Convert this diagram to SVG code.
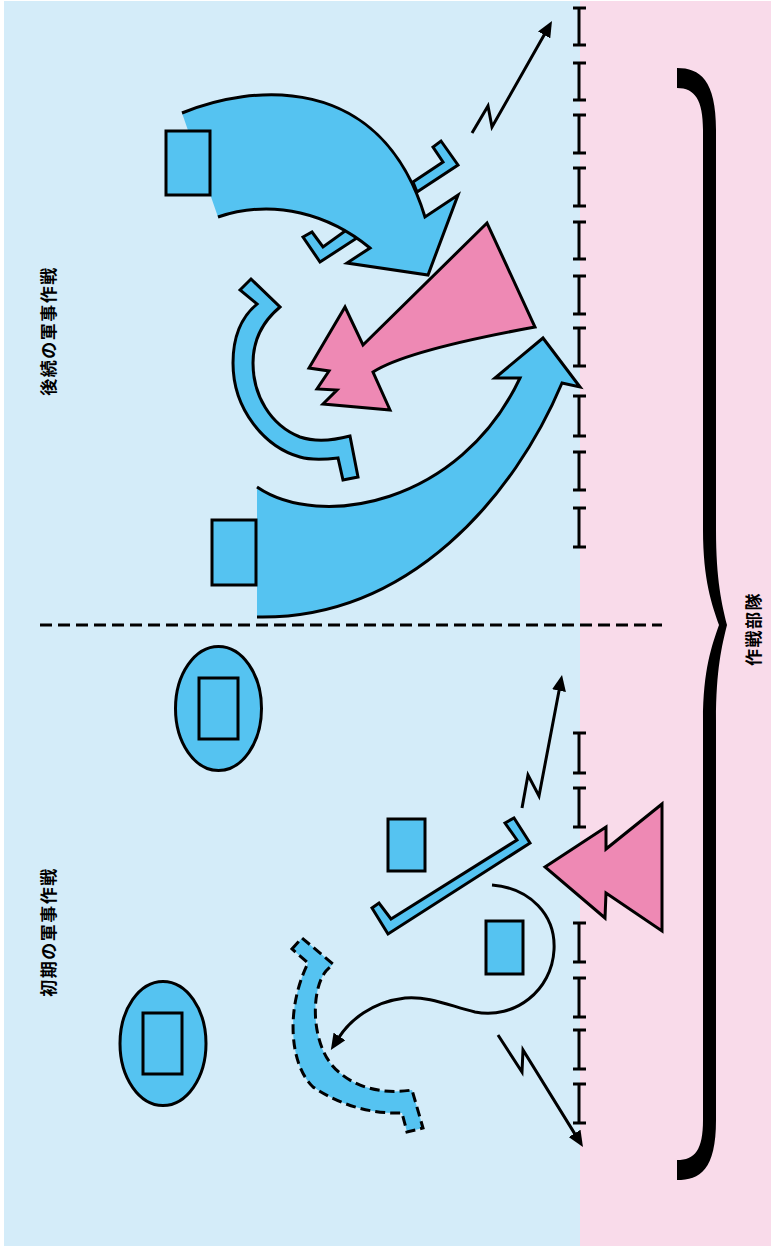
<svg xmlns="http://www.w3.org/2000/svg" width="771" height="1247" viewBox="0 0 771 1247">
<style>
.ln{fill:none;stroke:#000;stroke-width:3;stroke-linejoin:miter;stroke-miterlimit:10}
.bl{fill:#55c3f1;stroke:#000;stroke-width:3;stroke-linejoin:miter;stroke-miterlimit:10}
.blf{fill:#55c3f1;stroke:none}
.pk{fill:#ee89b4;stroke:#000;stroke-width:3;stroke-linejoin:miter;stroke-miterlimit:10}
.tk{fill:none;stroke:#000;stroke-width:3}
.lbl{font-family:"Noto Sans CJK JP","Noto Sans CJK SC",sans-serif;font-weight:bold;font-size:17px;fill:#000;letter-spacing:1.5px}
.arr{fill:none;stroke:#000;stroke-width:3;marker-end:url(#ah)}
</style>
<defs>
<marker id="ah" viewBox="0 0 16 14" markerWidth="16" markerHeight="14" markerUnits="userSpaceOnUse" refX="2" refY="7" orient="auto">
<path d="M0,0 L16,7 L0,14 z" fill="#000"/>
</marker>
</defs>
<g id="background">
<rect x="0" y="0" width="771" height="1247" fill="#ffffff"/>
<rect x="4" y="1" width="576" height="1245" fill="#d4ecf9"/>
<rect x="580" y="1" width="191" height="1245" fill="#f9dbea"/>
</g>
<g id="frontline">
<path class="tk" d="M573,8H586M579,8V45M573,45H586 M573,63H586M579,63V100M573,100H586 M573,115H586M579,115V153M573,153H586 M573,168H586M579,168V206M573,206H586 M573,222H586M579,222V259M573,259H586 M573,276H586M579,276V314M573,314H586 M573,328H586M579,328V366M573,366H586 M573,396H586M579,396V436M573,436H586 M573,452H586M579,452V490M573,490H586 M573,508H586M579,508V547M573,547H586"/>
<path class="tk" d="M573,733H586M579,733V773M573,773H586 M573,788H586M579,788V827M573,827H586 M573,923H586M579,923V962M573,962H586 M573,978H586M579,978V1017M573,1017H586 M573,1030H586M579,1030V1069M573,1069H586 M573,1084H586M579,1084V1123M573,1123H586"/>
</g>
<g id="divider">
<path d="M40,625H662" fill="none" stroke="#000" stroke-width="3" stroke-dasharray="12 6"/>
</g>
<g id="brace">
<path d="M677,68 C700,68 716,80 716,130 L716,530 C716,580 722,605 727,625 C722,645 716,670 716,720 L716,1120 C716,1170 700,1180 677,1180 L677,1160 C695,1160 703,1150 703,1120 L703,720 C703,670 712,645 719,625 C712,605 703,580 703,530 L703,130 C703,100 695,88 677,88 Z" fill="#000"/>
</g>
<g id="labels">
<text class="lbl" transform="translate(47,331) rotate(-90)" text-anchor="middle" dominant-baseline="central">後続の軍事作戦</text>
<text class="lbl" transform="translate(47,932) rotate(-90)" text-anchor="middle" dominant-baseline="central">初期の軍事作戦</text>
<text class="lbl" transform="translate(752,629) rotate(-90)" text-anchor="middle" dominant-baseline="central">作戦部隊</text>
</g>
<g id="hook-upper">
<polygon class="bl" points="413,182 443,162 433,147 441,141 458,165 417,192"/>
</g>
<g id="hook-lower">
<polygon class="bl" points="303,237 312,232 323,247 352,226 360,236 320,262"/>
</g>
<g id="arrow-top">
<path class="blf" d="M182,113 C250,85 380,70 425,217 L458,195 L428,275 L347,263 L370,248 C330,215 275,198 218,217 Z"/>
<path class="ln" d="M182,113 C250,85 380,70 425,217 L458,195 L428,275 L347,263 L370,248 C330,215 275,198 218,217"/>
</g>
<g id="unit-top">
<rect class="bl" x="166" y="131" width="44" height="64"/>
</g>
<g id="c-band">
<path class="bl" d="M240,290 L251,279 L280,307 C262,322 253,340 253,363 C253,395 270,425 300,437 C318,443 335,440 350,436 L358,477 L343,480 L338,458 C320,460 310,460 300,457 C265,447 233,410 233,363 C233,340 240,318 257,304 Z"/>
</g>
<g id="enemy-arrow-top">
<path class="pk" d="M487,223 L363,345 L345,307 L309,368 L329,371 L317,389 L337,390 L323,404 L390,410 L373,372 Q406,350.5 535,327 Z"/>
</g>
<g id="arrow-bottom">
<path class="blf" d="M257,487 C320,530 460,505 520,378 L495,378 L543,338 L580,387 L562,383 C515,495 410,620 257,617 Z"/>
<path class="ln" d="M257,487 C320,530 460,505 520,378 L495,378 L543,338 L580,387 L562,383 C515,495 410,620 257,617"/>
</g>
<g id="unit-bottom">
<rect class="bl" x="212" y="520" width="44" height="65"/>
</g>
<g id="reserve-1">
<ellipse class="bl" cx="218.5" cy="708.5" rx="43" ry="62"/>
<rect class="bl" x="199" y="678" width="39" height="61"/>
</g>
<g id="reserve-2">
<ellipse class="bl" cx="163" cy="1043.5" rx="43" ry="62"/>
<rect class="bl" x="143" y="1013" width="39" height="61"/>
</g>
<g id="unit-a">
<rect class="bl" x="388" y="819" width="37" height="52"/>
</g>
<g id="unit-b">
<rect class="bl" x="486" y="921" width="37" height="53"/>
</g>
<g id="long-hook">
<polygon class="bl" points="505,823 514,818 530,843 388,934 372,908 379,903 391,919 517,840"/>
</g>
<g id="enemy-arrow-bottom">
<polygon class="pk" points="545,867 606,827 606,849 662,804 662,931 606,893 605,918"/>
</g>
<g id="dashed-band">
<path d="M292,949 L302,938 L333,964 L326,971 C310,990 310,1050 340,1073 C355,1086 380,1095 412,1090 L423,1128 L407,1132 L402,1113 C370,1114 340,1105 313,1087 C290,1065 285,1010 308,963 Z" fill="#55c3f1" stroke="#000" stroke-width="3" stroke-dasharray="10 5"/>
</g>
<g id="connectors">
<path class="arr" d="M472,133 L488,106 L492,127 L545.1,33.2"/>
<path class="arr" d="M522,808 L528,775 L539,796 L559.4,688.7"/>
<path class="arr" d="M498,1035 L522,1072 L523,1050 L575.6,1135.1"/>
<path class="arr" d="M492,885 C530,888 556,915 554,950 C552,990 515,1020 475,1012 C450,1006 430,996 405,998 C372,1002 350,1020 338.4,1038.1"/>
</g>
</svg>
